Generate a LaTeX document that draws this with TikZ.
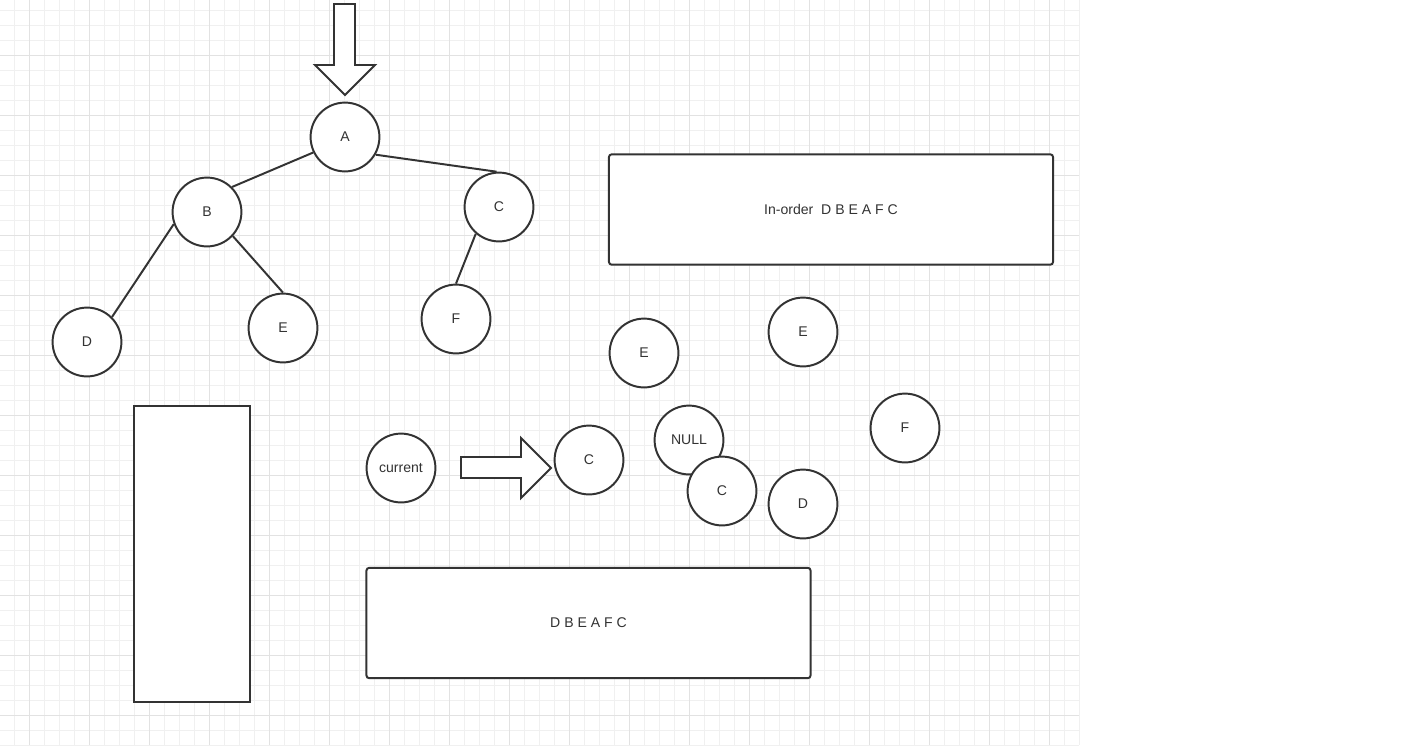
\documentclass[tikz,border=0pt]{standalone}
\usepackage{fontspec}
\setmainfont{Liberation Sans}
\definecolor{ink}{HTML}{333333}
\definecolor{gridminor}{HTML}{F0F0F0}
\definecolor{gridmajor}{HTML}{E2E2E2}
\begin{document}
\begin{tikzpicture}[x=0.025cm,y=-0.025cm,
  minor/.style={draw=gridminor,line width=0.7pt},
  major/.style={draw=gridmajor,line width=0.7pt},
  vert/.style={circle,draw=ink,line width=1.4pt,fill=white,minimum size=1.72cm,
    inner sep=0pt,text=ink,font=\fontsize{10}{12}\selectfont},
  box/.style={rectangle,draw=ink,line width=1.4pt,fill=white,inner sep=0pt,
    text=ink,font=\fontsize{10}{12}\selectfont},
  link/.style={draw=ink,line width=1.4pt},
  blockarrow/.style={draw=ink,line width=1.4pt,fill=white,line join=miter}]
  \useasboundingbox (0,0) rectangle (1405,745);
  \foreach \k in {0,...,71} \draw[minor] ({14+15*\k},0) -- ({14+15*\k},745);
  \foreach \k in {0,...,49} \draw[minor] (0,{10+15*\k}) -- (1079,{10+15*\k});
  \foreach \k in {0,...,17} \draw[major] ({29+60*\k},0) -- ({29+60*\k},745);
  \foreach \k in {0,...,11} \draw[major] (0,{55+60*\k}) -- (1079,{55+60*\k});

  \draw[blockarrow] (334,4) -- (355,4) -- (355,65) -- (375,65) -- (345,95)
    -- (315,65) -- (334,65) -- cycle;
  \draw[blockarrow] (461,457) -- (521,457) -- (521,438) -- (551,468)
    -- (521,498) -- (521,478) -- (461,478) -- cycle;

  \node[vert] (A) at (345,137) {A};
  \node[vert] (B) at (207,212) {B};
  \node[vert] (C) at (499,207) {C};
  \node[vert] (D) at (87,342) {D};
  \node[vert] (E) at (283,328) {E};
  \node[vert] (F) at (456,319) {F};

  \draw[link] (A.206) -- (B.45);
  \draw[link] (A.-30) -- (C.94);
  \draw[link] (B.200) -- (D.45);
  \draw[link] (B.-43) -- (E.north);
  \draw[link] (C.229) -- (F.north);

  \node[box,rounded corners=2pt,minimum width=11.1cm,minimum height=2.76cm]
    (inorder) at (831,209.5) {In-order\ \ D B E A F C};
  \node[box,minimum width=2.92cm,minimum height=7.41cm] (stack) at (192,554) {};
  \node[box,rounded corners=2pt,minimum width=11.1cm,minimum height=2.76cm]
    (result) at (588.5,623) {D B E A F C};

  \node[vert] (current) at (401,468) {current};
  \node[vert] (cur c) at (589,460) {C};
  \node[vert] (e one) at (644,353) {E};
  \node[vert] (e two) at (803,332) {E};
  \node[vert] (f one) at (905,428) {F};
  \node[vert] (null) at (689,440) {NULL};
  \node[vert] (c one) at (722,491) {C};
  \node[vert] (d one) at (803,504) {D};
\end{tikzpicture}
\end{document}
